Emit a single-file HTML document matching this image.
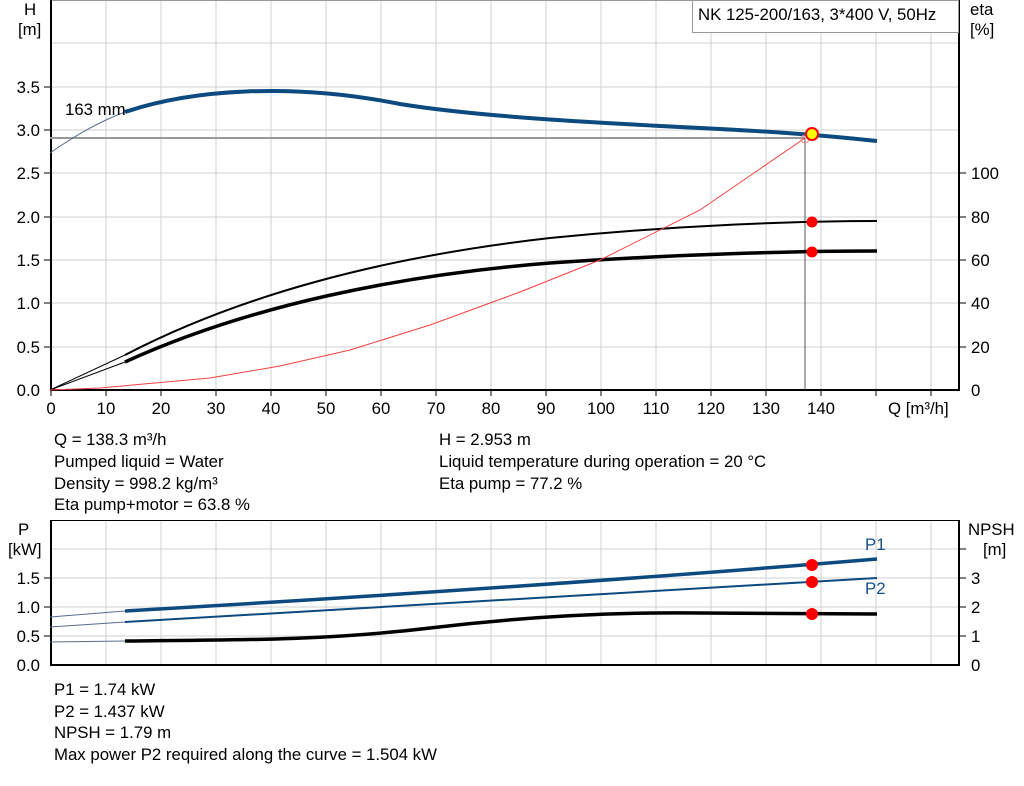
<!DOCTYPE html>
<html><head><style>
body{margin:0;background:#fff;}
svg text{font-family:"Liberation Sans",Arial,sans-serif;font-size:16.8px;fill:#000;}
</style></head><body>
<svg width="1024" height="781" viewBox="0 0 1024 781" xmlns="http://www.w3.org/2000/svg">
<g stroke="#d0d0d0" stroke-width="1">
<line x1="106" y1="0" x2="106" y2="390"/><line x1="161" y1="0" x2="161" y2="390"/><line x1="216" y1="0" x2="216" y2="390"/><line x1="271" y1="0" x2="271" y2="390"/><line x1="326" y1="0" x2="326" y2="390"/><line x1="381" y1="0" x2="381" y2="390"/><line x1="436" y1="0" x2="436" y2="390"/><line x1="491" y1="0" x2="491" y2="390"/><line x1="546" y1="0" x2="546" y2="390"/><line x1="601" y1="0" x2="601" y2="390"/><line x1="656" y1="0" x2="656" y2="390"/><line x1="711" y1="0" x2="711" y2="390"/><line x1="766" y1="0" x2="766" y2="390"/><line x1="821" y1="0" x2="821" y2="390"/><line x1="876" y1="0" x2="876" y2="390"/><line x1="931" y1="0" x2="931" y2="390"/>
<line x1="50" y1="43" x2="959" y2="43"/><line x1="50" y1="87" x2="959" y2="87"/><line x1="50" y1="130" x2="959" y2="130"/><line x1="50" y1="173" x2="959" y2="173"/><line x1="50" y1="217" x2="959" y2="217"/><line x1="50" y1="260" x2="959" y2="260"/><line x1="50" y1="303" x2="959" y2="303"/><line x1="50" y1="347" x2="959" y2="347"/>
<line x1="106" y1="520" x2="106" y2="665"/><line x1="161" y1="520" x2="161" y2="665"/><line x1="216" y1="520" x2="216" y2="665"/><line x1="271" y1="520" x2="271" y2="665"/><line x1="326" y1="520" x2="326" y2="665"/><line x1="381" y1="520" x2="381" y2="665"/><line x1="436" y1="520" x2="436" y2="665"/><line x1="491" y1="520" x2="491" y2="665"/><line x1="546" y1="520" x2="546" y2="665"/><line x1="601" y1="520" x2="601" y2="665"/><line x1="656" y1="520" x2="656" y2="665"/><line x1="711" y1="520" x2="711" y2="665"/><line x1="766" y1="520" x2="766" y2="665"/><line x1="821" y1="520" x2="821" y2="665"/><line x1="876" y1="520" x2="876" y2="665"/><line x1="931" y1="520" x2="931" y2="665"/>
<line x1="50" y1="549" x2="959" y2="549"/><line x1="50" y1="578" x2="959" y2="578"/><line x1="50" y1="607" x2="959" y2="607"/><line x1="50" y1="636" x2="959" y2="636"/>
</g>
<line x1="50" y1="0.5" x2="959" y2="0.5" stroke="#999"/>
<line x1="50" y1="520.5" x2="959" y2="520.5" stroke="#000"/>
<g stroke="#000" stroke-width="2" fill="none">
<line x1="51" y1="0" x2="51" y2="391"/><line x1="50" y1="390" x2="960" y2="390"/><line x1="959" y1="0" x2="959" y2="391"/>
<line x1="51" y1="520" x2="51" y2="666"/><line x1="50" y1="665" x2="960" y2="665"/><line x1="959" y1="520" x2="959" y2="666"/>
</g>
<g stroke="#000" stroke-width="1">
<line x1="44" y1="87" x2="50" y2="87"/><line x1="44" y1="130" x2="50" y2="130"/><line x1="44" y1="173" x2="50" y2="173"/><line x1="44" y1="217" x2="50" y2="217"/><line x1="44" y1="260" x2="50" y2="260"/><line x1="44" y1="303" x2="50" y2="303"/><line x1="44" y1="347" x2="50" y2="347"/>
<line x1="959" y1="173" x2="966" y2="173"/><line x1="959" y1="217" x2="966" y2="217"/><line x1="959" y1="260" x2="966" y2="260"/><line x1="959" y1="303" x2="966" y2="303"/><line x1="959" y1="347" x2="966" y2="347"/>
<line x1="51" y1="390" x2="51" y2="396"/><line x1="106" y1="390" x2="106" y2="396"/><line x1="161" y1="390" x2="161" y2="396"/><line x1="216" y1="390" x2="216" y2="396"/><line x1="271" y1="390" x2="271" y2="396"/><line x1="326" y1="390" x2="326" y2="396"/><line x1="381" y1="390" x2="381" y2="396"/><line x1="436" y1="390" x2="436" y2="396"/><line x1="491" y1="390" x2="491" y2="396"/><line x1="546" y1="390" x2="546" y2="396"/><line x1="601" y1="390" x2="601" y2="396"/><line x1="656" y1="390" x2="656" y2="396"/><line x1="711" y1="390" x2="711" y2="396"/><line x1="766" y1="390" x2="766" y2="396"/><line x1="821" y1="390" x2="821" y2="396"/><line x1="876" y1="390" x2="876" y2="396"/><line x1="931" y1="390" x2="931" y2="396"/>
<line x1="44" y1="578" x2="50" y2="578"/><line x1="44" y1="607" x2="50" y2="607"/><line x1="44" y1="636" x2="50" y2="636"/>
<line x1="959" y1="549" x2="966" y2="549"/><line x1="959" y1="578" x2="966" y2="578"/><line x1="959" y1="607" x2="966" y2="607"/><line x1="959" y1="636" x2="966" y2="636"/>
</g>
<line x1="50" y1="138" x2="805" y2="138" stroke="#999" stroke-width="2"/>
<line x1="805" y1="138" x2="805" y2="390" stroke="#555" stroke-width="1"/>
<path d="M50,153 Q90,125 125,112" stroke="#5a6a90" stroke-width="1" fill="none"/>
<path d="M125,112 C190,90 290,82 400,104 C480,117 600,123 700,128 C760,131 812,134 877,141" stroke="#0d4a80" stroke-width="4" fill="none"/>
<path d="M50,390 L125,355 M50,390 L125,362" stroke="#000" stroke-width="1" fill="none"/>
<path d="M125,355 C250,290 400,255 550,238 C680,225 800,221 877,221" stroke="#000" stroke-width="2" fill="none"/>
<path d="M125,362 C250,305 400,275 550,263 C680,254 800,251 877,251" stroke="#000" stroke-width="3.5" fill="none"/>
<path d="M50,390 L100,388 L210,378 L280,366 L350,350 L430,325 L520,292 L600,260 L700,210 L805,138" stroke="#f04040" stroke-width="1" fill="none"/>
<circle cx="805" cy="139" r="4" fill="none" stroke="#f08080" stroke-width="1"/>
<circle cx="812" cy="134" r="6" fill="#ffff00" stroke="#ff0000" stroke-width="2"/>
<circle cx="812" cy="222" r="5.5" fill="#ff0000"/>
<circle cx="812" cy="252" r="5.5" fill="#ff0000"/>
<path d="M50,617 L125,611 M50,627 L125,622 M50,642 L125,641" stroke="#5a6a90" stroke-width="1" fill="none"/>
<path d="M125,611 C400,595 650,578 877,559" stroke="#0d4a80" stroke-width="3.5" fill="none"/>
<path d="M125,622 C400,608 650,593 877,578" stroke="#0d4a80" stroke-width="2" fill="none"/>
<path d="M125,641 C250,640 330,640 430,628 C530,616 620,612 700,613 C780,614 840,614 877,614" stroke="#000" stroke-width="3.5" fill="none"/>
<circle cx="812" cy="565" r="6" fill="#ff0000"/>
<circle cx="812" cy="582" r="6" fill="#ff0000"/>
<circle cx="812" cy="614" r="6" fill="#ff0000"/>
<text x="865" y="550" style="fill:#1a4f8a">P1</text>
<text x="865" y="594" style="fill:#1a4f8a">P2</text>
<rect x="692.5" y="0.5" width="266" height="32" fill="#fff" stroke="#999"/>
<text x="698" y="20">NK 125-200/163, 3*400 V, 50Hz</text>
<text x="24" y="15">H</text><text x="18" y="35">[m]</text>
<text x="970" y="15">eta</text><text x="970" y="35">[%]</text>
<text x="65" y="115">163 mm</text>
<g text-anchor="end">
<text x="40" y="93">3.5</text><text x="40" y="136">3.0</text><text x="40" y="179">2.5</text><text x="40" y="223">2.0</text><text x="40" y="266">1.5</text><text x="40" y="309">1.0</text><text x="40" y="353">0.5</text><text x="40" y="396">0.0</text>
<text x="40" y="584">1.5</text><text x="40" y="613">1.0</text><text x="40" y="642">0.5</text><text x="40" y="671">0.0</text>
</g>
<g>
<text x="971" y="179">100</text><text x="971" y="223">80</text><text x="971" y="266">60</text><text x="971" y="309">40</text><text x="971" y="353">20</text><text x="971" y="396">0</text>
<text x="971" y="584">3</text><text x="971" y="613">2</text><text x="971" y="642">1</text><text x="971" y="671">0</text>
</g>
<g text-anchor="middle">
<text x="51" y="414">0</text><text x="106" y="414">10</text><text x="161" y="414">20</text><text x="216" y="414">30</text><text x="271" y="414">40</text><text x="326" y="414">50</text><text x="381" y="414">60</text><text x="436" y="414">70</text><text x="491" y="414">80</text><text x="546" y="414">90</text><text x="601" y="414">100</text><text x="656" y="414">110</text><text x="711" y="414">120</text><text x="766" y="414">130</text><text x="821" y="414">140</text>
</g>
<text x="888" y="414">Q [m³/h]</text>
<text x="54" y="445">Q = 138.3 m³/h</text>
<text x="54" y="467">Pumped liquid = Water</text>
<text x="54" y="489">Density = 998.2 kg/m³</text>
<text x="54" y="510">Eta pump+motor = 63.8 %</text>
<text x="439" y="445">H = 2.953 m</text>
<text x="439" y="467">Liquid temperature during operation = 20 °C</text>
<text x="439" y="489">Eta pump = 77.2 %</text>
<text x="18" y="535">P</text><text x="8" y="555">[kW]</text>
<text x="968" y="535">NPSH</text><text x="983" y="555">[m]</text>
<text x="54" y="695">P1 = 1.74 kW</text>
<text x="54" y="717">P2 = 1.437 kW</text>
<text x="54" y="738">NPSH = 1.79 m</text>
<text x="54" y="760">Max power P2 required along the curve = 1.504 kW</text>
</svg>
</body></html>
